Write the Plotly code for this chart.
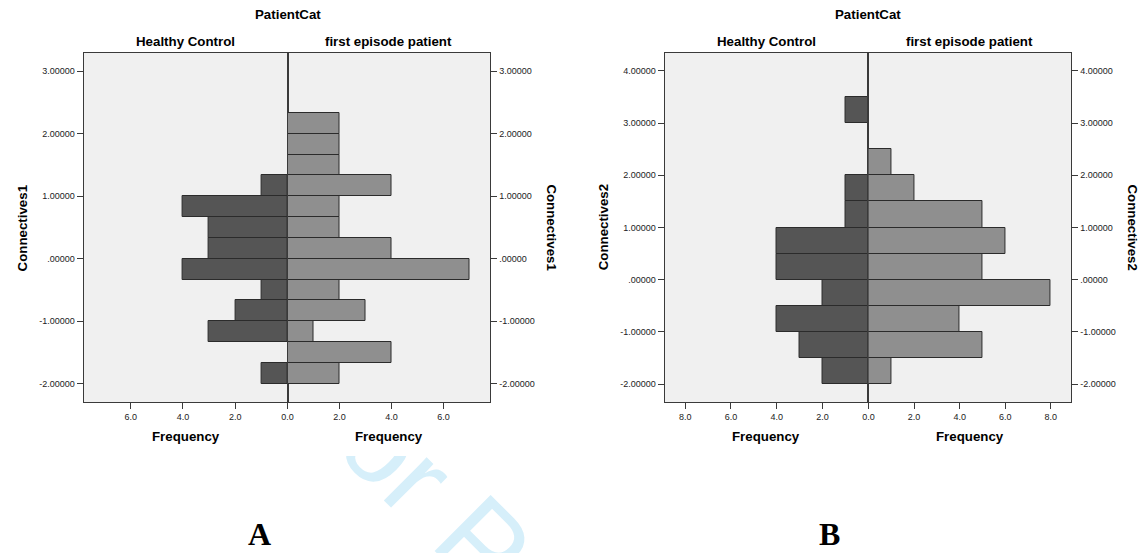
import plotly.graph_objects as go

W, H = 1141, 553

# ---------------- data ----------------
# Panel A: Connectives1 histogram (bin width 1/3), counts listed from the lowest bin upward
conn1_bin_centers = [-1.8333, -1.5, -1.1667, -0.8333, -0.5, -0.1667, 0.1667,
                     0.5, 0.8333, 1.1667, 1.5, 1.8333, 2.1667]
conn1_bin_width = 0.3333
conn1_healthy = [1, 0, 3, 2, 1, 4, 3, 3, 4, 1, 0, 0, 0]
conn1_patient = [2, 4, 1, 3, 2, 7, 4, 2, 2, 4, 2, 2, 2]

# Panel B: Connectives2 histogram (bin width 0.5)
conn2_bin_centers = [-1.75, -1.25, -0.75, -0.25, 0.25, 0.75, 1.25, 1.75, 2.25, 2.75, 3.25]
conn2_bin_width = 0.5
conn2_healthy = [2, 3, 4, 2, 4, 4, 1, 1, 0, 0, 1]
conn2_patient = [1, 5, 4, 8, 5, 6, 5, 2, 1, 0, 0]

groups = ["Healthy Control", "first episode patient"]
panel_title = "PatientCat"
value_titles = ["Connectives1", "Connectives2"]
freq_title = "Frequency"
panel_letters = ["A", "B"]

ytick_vals_A = [-2, -1, 0, 1, 2, 3]
ytick_text_A = ["-2.00000", "-1.00000", ".00000", "1.00000", "2.00000", "3.00000"]
ytick_vals_B = [-2, -1, 0, 1, 2, 3, 4]
ytick_text_B = ["-2.00000", "-1.00000", ".00000", "1.00000", "2.00000", "3.00000", "4.00000"]
xtick_vals_A = [0, 2, 4, 6]
xtick_text_A = ["0.0", "2.0", "4.0", "6.0"]
xtick_vals_B = [0, 2, 4, 6, 8]
xtick_text_B = ["0.0", "2.0", "4.0", "6.0", "8.0"]

# ---------------- styling ----------------
BG = "#f0f0f0"
HC_FILL = "#555555"
FEP_FILL = "#8f8f8f"
EDGE = "#2b2b2b"
AXIS = "#3a3a3a"
TICKC = "#222222"
SANS = "Liberation Sans, Arial, sans-serif"
SERIF = "Liberation Serif, Times New Roman, serif"


def px(x):
    return x / W


def py(y):
    return 1 - y / H


def nz(vals):
    return [v if v != 0 else None for v in vals]


fig = go.Figure()

panels = [
    dict(left=78, mid=283, right=487, top=53, bottom=402, yr=[-2.29, 3.29], xmax=7.8,
         centers=conn1_bin_centers, bw=conn1_bin_width, hc=conn1_healthy, fep=conn1_patient,
         ytv=ytick_vals_A, ytt=ytick_text_A, xtv=xtick_vals_A, xtt=xtick_text_A),
    dict(left=662, mid=867, right=1071, top=53, bottom=402, yr=[-2.34, 4.34], xmax=8.9,
         centers=conn2_bin_centers, bw=conn2_bin_width, hc=conn2_healthy, fep=conn2_patient,
         ytv=ytick_vals_B, ytt=ytick_text_B, xtv=xtick_vals_B, xtt=xtick_text_B),
]

layout = dict(
    width=W, height=H, margin=dict(l=0, r=0, t=0, b=0),
    paper_bgcolor="white", plot_bgcolor=BG, showlegend=False,
    bargap=0, barmode="overlay",
    font=dict(family=SANS, color="#000000"),
)

annotations = []
ax_i = 1
for p_i, p in enumerate(panels):
    xl = ax_i
    xr = ax_i + 1
    xl_name = "xaxis" if xl == 1 else f"xaxis{xl}"
    yl_name = "yaxis" if xl == 1 else f"yaxis{xl}"
    xr_name = f"xaxis{xr}"
    yr_name = f"yaxis{xr}"
    xl_ref = "x" if xl == 1 else f"x{xl}"
    yl_ref = "y" if xl == 1 else f"y{xl}"
    xr_ref = f"x{xr}"
    yr_ref = f"y{xr}"

    ydom = [py(p["bottom"]), py(p["top"])]
    common_x = dict(showgrid=False, zeroline=False, showline=True, linecolor=AXIS, linewidth=1,
                    mirror=True, ticks="outside", ticklen=6, tickcolor=AXIS, tickwidth=1,
                    tickfont=dict(size=9, color=TICKC, family=SANS), fixedrange=True)
    common_y = dict(showgrid=False, zeroline=False, showline=True, linecolor=AXIS, linewidth=1,
                    mirror=True, ticks="outside", ticklen=6, tickcolor=AXIS, tickwidth=1,
                    tickfont=dict(size=9, color=TICKC, family=SANS), range=p["yr"],
                    tickvals=p["ytv"], ticktext=p["ytt"], domain=ydom, fixedrange=True)

    layout[xl_name] = dict(common_x, domain=[px(p["left"]), px(p["mid"])], range=[p["xmax"], 0],
                           tickvals=p["xtv"][1:], ticktext=p["xtt"][1:], anchor=yl_ref)
    layout[xr_name] = dict(common_x, domain=[px(p["mid"]), px(p["right"])], range=[0, p["xmax"]],
                           tickvals=p["xtv"], ticktext=p["xtt"], anchor=yr_ref)
    layout[yl_name] = dict(common_y, anchor=xl_ref, side="left")
    layout[yr_name] = dict(common_y, anchor=xr_ref, side="right")

    fig.add_trace(go.Bar(orientation="h", y=p["centers"], x=nz(p["hc"]), width=p["bw"],
                         xaxis=xl_ref, yaxis=yl_ref, name=groups[0],
                         marker=dict(color=HC_FILL, line=dict(color=EDGE, width=1))))
    fig.add_trace(go.Bar(orientation="h", y=p["centers"], x=nz(p["fep"]), width=p["bw"],
                         xaxis=xr_ref, yaxis=yr_ref, name=groups[1],
                         marker=dict(color=FEP_FILL, line=dict(color=EDGE, width=1))))

    cl = (p["left"] + p["mid"]) / 2
    cr = (p["mid"] + p["right"]) / 2
    tf = dict(family=SANS, size=13.3, color="#000000")
    annotations += [
        dict(text=f"<b>{panel_title}</b>", x=px(p["mid"]), y=py(15), xref="paper", yref="paper",
             showarrow=False, xanchor="center", yanchor="middle", font=tf),
        dict(text=f"<b>{groups[0]}</b>", x=px(cl), y=py(42), xref="paper", yref="paper",
             showarrow=False, xanchor="center", yanchor="middle", font=tf),
        dict(text=f"<b>{groups[1]}</b>", x=px(cr), y=py(42), xref="paper", yref="paper",
             showarrow=False, xanchor="center", yanchor="middle", font=tf),
        dict(text=f"<b>{freq_title}</b>", x=px(cl), y=py(436), xref="paper", yref="paper",
             showarrow=False, xanchor="center", yanchor="middle", font=tf),
        dict(text=f"<b>{freq_title}</b>", x=px(cr), y=py(436), xref="paper", yref="paper",
             showarrow=False, xanchor="center", yanchor="middle", font=tf),
        dict(text=f"<b>{value_titles[p_i]}</b>", x=px(p["left"] - 61), y=py((p["top"] + p["bottom"]) / 2),
             xref="paper", yref="paper", showarrow=False, textangle=-90,
             xanchor="center", yanchor="middle", font=tf),
        dict(text=f"<b>{value_titles[p_i]}</b>", x=px(p["right"] + 61), y=py((p["top"] + p["bottom"]) / 2),
             xref="paper", yref="paper", showarrow=False, textangle=90,
             xanchor="center", yanchor="middle", font=tf),
        dict(text=f"<b>{panel_letters[p_i]}</b>", x=px(254.5 if p_i == 0 else 827.5), y=py(534),
             xref="paper", yref="paper", showarrow=False, xanchor="center", yanchor="middle",
             font=dict(family=SERIF, size=32, color="#000000")),
    ]
    ax_i += 2

# partially hidden journal watermark (drawn beneath everything, then masked above y=456)
wm_cx, wm_cy = 440, 488
shapes = [
    dict(type="rect", xref="paper", yref="paper", layer="below",
         x0=px(wm_cx - 1), x1=px(wm_cx + 1), y0=py(wm_cy + 1), y1=py(wm_cy - 1),
         line=dict(width=0), fillcolor="rgba(0,0,0,0)",
         label=dict(text="or P", textangle=45, textposition="middle center",
                    font=dict(family=SANS, size=115, color="#d6effa"))),
    dict(type="rect", xref="paper", yref="paper", layer="below",
         x0=px(300), x1=px(520), y0=py(456), y1=py(403),
         line=dict(width=0), fillcolor="white"),
]

layout["annotations"] = annotations
layout["shapes"] = shapes
fig.update_layout(**layout)

fig.write_html("out.html", config=dict(displayModeBar=False),
               post_script="document.body.style.margin='0';")
